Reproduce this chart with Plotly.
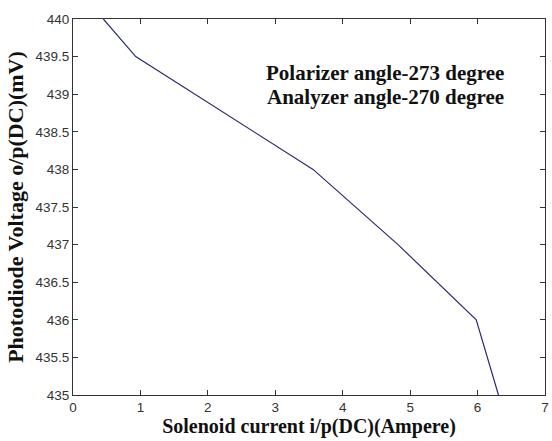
import plotly.graph_objects as go

current_a = [0.45, 0.93, 3.56, 4.82, 5.98, 6.31]
voltage_mv = [440.0, 439.5, 438.0, 437.0, 436.0, 435.0]

x_ticks = [0, 1, 2, 3, 4, 5, 6, 7]
y_ticks = [435, 435.5, 436, 436.5, 437, 437.5, 438, 438.5, 439, 439.5, 440]
y_tick_text = ["435", "435.5", "436", "436.5", "437", "437.5", "438", "438.5", "439", "439.5", "440"]

annotation_lines = ["Polarizer angle-273 degree", "Analyzer angle-270 degree"]

fig = go.Figure()
fig.add_trace(go.Scatter(x=current_a, y=voltage_mv, mode="lines",
                         line=dict(color="#2a2a6e", width=1.2), showlegend=False))

tick_font = dict(family="Arial, Liberation Sans, sans-serif", size=13.5, color="#333333")
serif = "Liberation Serif, Times New Roman, serif"

fig.update_layout(
    width=552, height=441,
    margin=dict(l=73, r=3, t=19, b=46),
    paper_bgcolor="white", plot_bgcolor="white",
    xaxis=dict(range=[0, 7], tickvals=x_ticks, ticks="inside", ticklen=5,
               showline=True, mirror="ticks", linecolor="#333333", linewidth=1,
               tickcolor="#333333", showgrid=False, zeroline=False, tickfont=tick_font,
               ticklabeloverflow="allow",
               title=dict(text="<b>Solenoid current i/p(DC)(Ampere)</b>",
                          font=dict(family=serif, size=20, color="#111111"), standoff=4)),
    yaxis=dict(range=[435, 440], tickvals=y_ticks, ticktext=y_tick_text, ticks="inside", ticklen=5,
               showline=True, mirror="ticks", linecolor="#333333", linewidth=1,
               tickcolor="#333333", showgrid=False, zeroline=False, tickfont=tick_font,
               ticklabeloverflow="allow",
               title=dict(text="<b>Photodiode Voltage o/p(DC)(mV)</b>",
                          font=dict(family=serif, size=22, color="#111111"), standoff=5)),
)

for i, line in enumerate(annotation_lines):
    fig.add_annotation(
        x=0.662, y=0.856 - i * 0.064, xref="paper", yref="paper",
        xanchor="center", yanchor="middle", text="<b>" + line + "</b>",
        showarrow=False, font=dict(family=serif, size=21, color="#111111"),
    )

fig.write_html("out.html")
